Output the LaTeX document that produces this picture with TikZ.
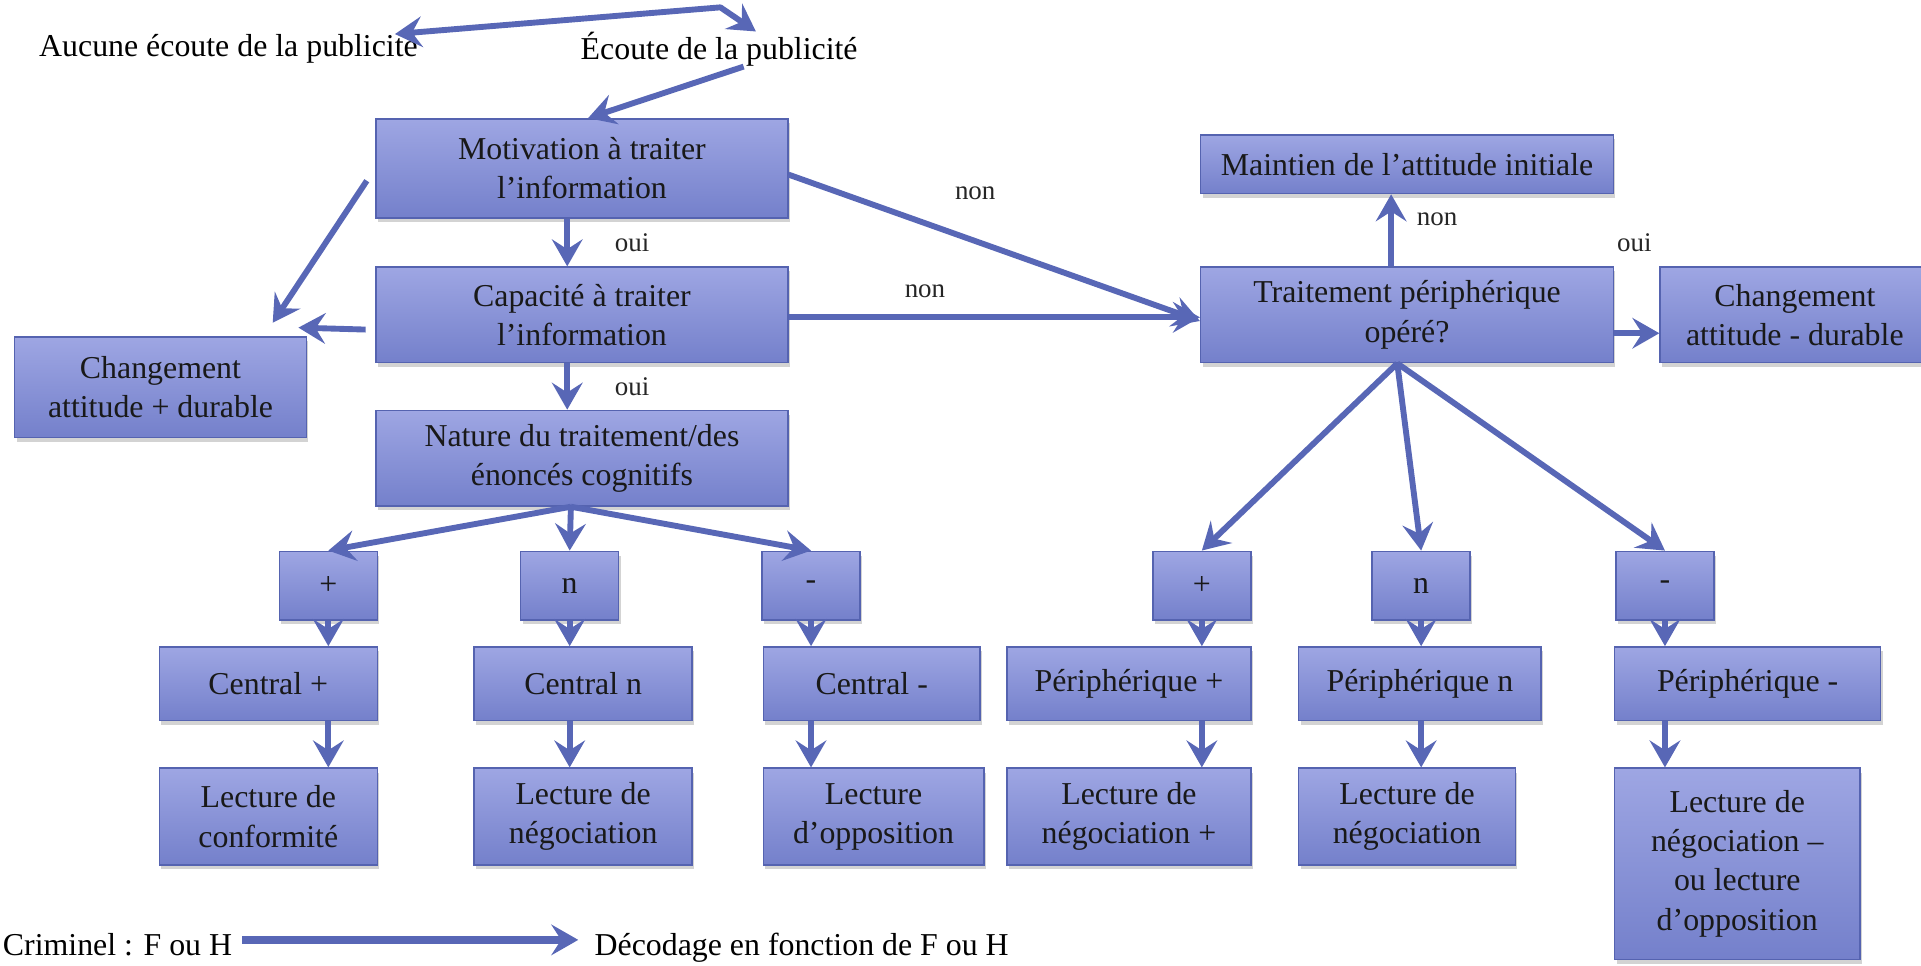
\documentclass[tikz,border=0pt]{standalone}
\usepackage{fontspec}
\setmainfont{Liberation Serif}
\usetikzlibrary{positioning, arrows.meta, shadows}

\definecolor{boxtop}{HTML}{9EA6E3}
\definecolor{boxbot}{HTML}{7480CB}
\definecolor{boxline}{HTML}{5563B0}
\definecolor{flechecol}{HTML}{5867B6}

\begin{document}
\begin{tikzpicture}[x=0.5pt, y=-0.5pt,
    bloc/.style={draw=boxline, line width=0.6pt, top color=boxtop, bottom color=boxbot,
      drop shadow={shadow xshift=0.8pt, shadow yshift=-1.8pt, opacity=0.35},
      align=center, inner sep=1pt, text=black!90, font=\fontsize{13}{16}\selectfont},
    petit/.style={bloc, minimum width=40pt, minimum height=28pt},
    fleche/.style={draw=flechecol, line width=2.4pt, line join=round,
      -{Stealth[length=11pt,width=12.5pt,inset=4pt]}},
    lab/.style={font=\fontsize{11}{13}\selectfont, text=black!85, inner sep=0pt},
    titre/.style={font=\fontsize{13}{15}\selectfont, inner sep=0pt}]

    \useasboundingbox (0,0) rectangle (1568,788);
    \clip (0,0) rectangle (1568,788);

    % Top texts
    \node[titre] (aucune) at (186.5,40) {Aucune écoute de la publicité};
    \node[titre] (ecoute) at (587,40) {Écoute de la publicité};

    % Central route
    \node[bloc, minimum width=168pt, minimum height=40.5pt] (moti) at (475,137.5) {Motivation à traiter\\l’information};
    \node[bloc, minimum width=168pt, minimum height=39pt] (capa) at (475,257) {Capacité à traiter\\l’information};
    \node[bloc, minimum width=168pt, minimum height=39pt] (nature) at (475,374) {Nature du traitement/des\\énoncés cognitifs};
    \node[bloc, minimum width=119pt, minimum height=41pt] (chgplus) at (131,316) {Changement\\attitude + durable};

    % Peripheral route
    \node[bloc, minimum width=168.5pt, minimum height=24pt] (maintien) at (1148.5,134) {Maintien de l’attitude initiale};
    \node[bloc, minimum width=168.5pt, minimum height=39pt] (traitement) at (1148.5,257) {Traitement périphérique\\opéré?};
    \node[bloc, minimum width=110pt, minimum height=39pt] (chgmoins) at (1465,257) {Changement\\attitude - durable};

    % Valence boxes
    \node[petit] (sp1) at (268,478) {+};
    \node[petit] (sn1) at (465,478) {n};
    \node[petit] (sm1) at (662,478) {-};
    \node[petit] (sp2) at (981,478) {+};
    \node[petit] (sn2) at (1160,478) {n};
    \node[petit] (sm2) at (1359,478) {-};

    % Central / peripheral results
    \node[bloc, minimum width=89pt, minimum height=30pt] (cp) at (219,558) {Central +};
    \node[bloc, minimum width=89pt, minimum height=30pt] (cn) at (476,558) {Central n};
    \node[bloc, minimum width=88.5pt, minimum height=30pt] (cm) at (711.5,558) {Central -};
    \node[bloc, minimum width=99.5pt, minimum height=30pt] (pp) at (921.5,558) {Périphérique +};
    \node[bloc, minimum width=99pt, minimum height=30pt] (pn) at (1159,558) {Périphérique n};
    \node[bloc, minimum width=108.5pt, minimum height=30pt] (pm) at (1426.5,558) {Périphérique -};

    % Readings
    \node[bloc, minimum width=89pt, minimum height=39.5pt] (lc) at (219,666.5) {Lecture de\\conformité};
    \node[bloc, minimum width=89pt, minimum height=39.5pt] (ln) at (476,666.5) {Lecture de\\négociation};
    \node[bloc, minimum width=90pt, minimum height=39.5pt] (lo) at (713,666.5) {Lecture\\d'opposition};
    \node[bloc, minimum width=99.5pt, minimum height=39.5pt] (lnp) at (921.5,666.5) {Lecture de\\négociation +};
    \node[bloc, minimum width=88.5pt, minimum height=39.5pt] (lnr) at (1148.5,666.5) {Lecture de\\négociation};
    \node[bloc, minimum width=100pt, minimum height=78pt] (lno) at (1418,705) {Lecture de\\négociation –\\ou lecture\\d'opposition};

    % Bottom line
    \node[titre, anchor=base west] (crim) at (2,780) {Criminel : F ou H};
    \node[titre, anchor=base west] (deco) at (485,780) {Décodage en fonction de F ou H};

    % Labels
    \node[lab] (oui1) at (516,198) {oui};
    \node[lab] (oui2) at (516,316) {oui};
    \node[lab] (non1) at (796,158) {non};
    \node[lab] (non2) at (755,238) {non};
    \node[lab] (non3) at (1173,179) {non};
    \node[lab] (oui3) at (1334,198) {oui};

    % Arrows top
    \coordinate (sommet) at (588,6);
    \draw[fleche, {Stealth[length=11pt,width=12.5pt,inset=4pt]}-{Stealth[length=11pt,width=12.5pt,inset=4pt]}]
      ([xshift=-9.5pt]aucune.north east) -- (sommet) -- ([xshift=15pt]ecoute.north);
    \draw[fleche] ([xshift=10pt]ecoute.south) -- ([xshift=2.5pt]moti.north);

    % Arrows central
    \draw[fleche] ([xshift=-6pt]moti.south) -- ([xshift=-6pt]moti.south |- capa.north);
    \draw[fleche] ([xshift=-6pt]capa.south) -- ([xshift=-6pt]capa.south |- nature.north);
    \draw[fleche] ([xshift=-3.5pt,yshift=-5pt]moti.west) -- ([xshift=-14pt,yshift=5.5pt]chgplus.north east);
    \draw[fleche] ([xshift=-4pt,yshift=-6pt]capa.west) -- ([xshift=-3.5pt,yshift=3.5pt]chgplus.north east);
    \draw[fleche] ([yshift=-2.5pt]moti.east) -- ([yshift=-2.5pt]traitement.west);
    \draw[fleche] ([yshift=-1pt]capa.east) -- ([yshift=-1pt]traitement.west);
    \foreach \s in {sp1, sn1, sm1}
      \draw[fleche] ([xshift=-4.5pt]nature.south) -- (\s.north);

    % Arrows peripheral
    \draw[fleche] ([xshift=-6.5pt]traitement.north) -- ([xshift=-6.5pt]traitement.north |- maintien.south);
    \draw[fleche] ([yshift=-7.5pt]traitement.east) -- ([yshift=-7.5pt]traitement.east -| chgmoins.west);
    \foreach \s in {sp2, sn2, sm2}
      \draw[fleche] ([xshift=-4pt]traitement.south) -- (\s.north);

    % Arrows down the columns
    \foreach \s/\c/\l in {sp1/cp/lc, sn1/cn/ln, sm1/cm/lo, sp2/pp/lnp, sn2/pn/lnr, sm2/pm/lno}{
      \draw[fleche] (\s.south) -- (\s.south |- \c.north);
      \draw[fleche] (\s.south |- \c.south) -- (\s.south |- \l.north);
    }

    % Bottom arrow
    \coordinate (crimfin) at ([xshift=4pt,yshift=2pt]crim.east);
    \draw[fleche, line width=3pt] (crimfin) -- ([xshift=-6.5pt]crimfin -| deco.west);
\end{tikzpicture}
\end{document}
